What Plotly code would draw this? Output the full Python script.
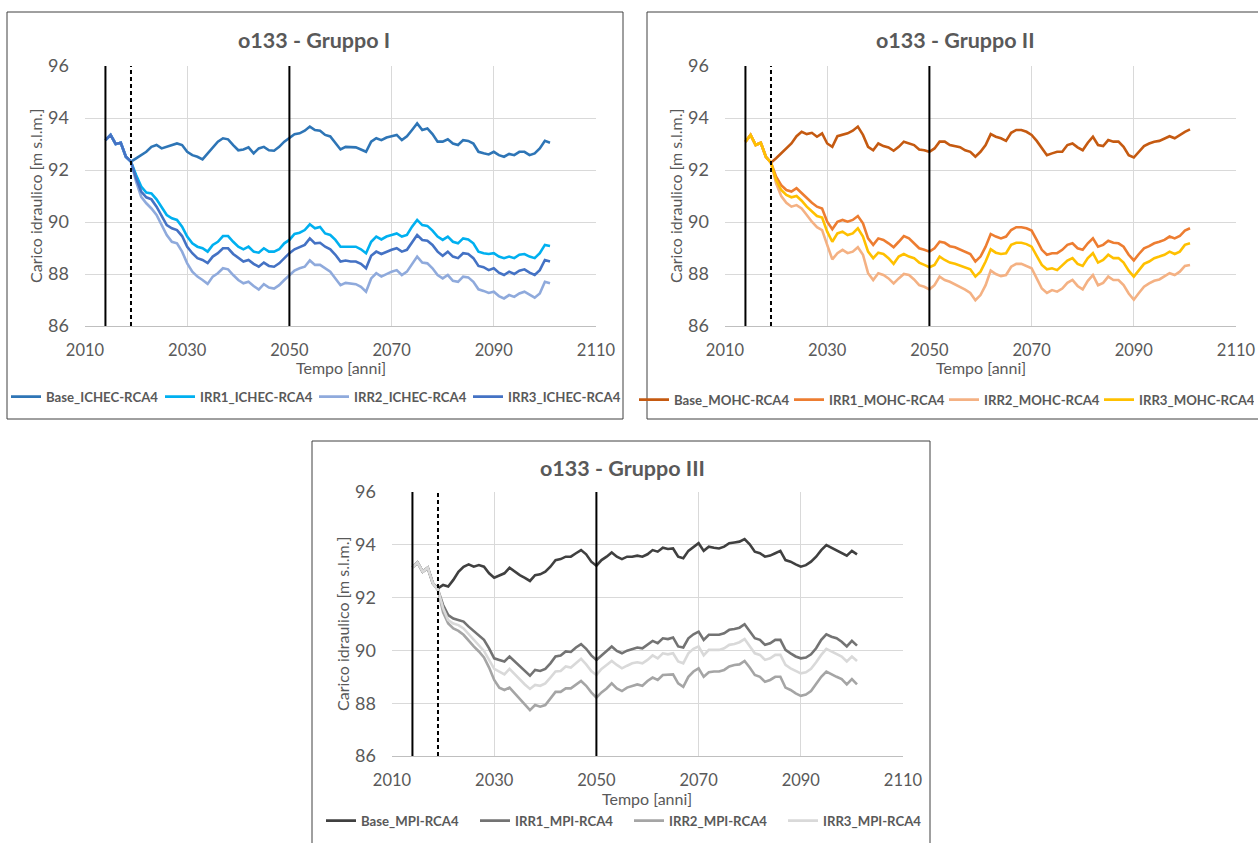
import plotly.graph_objects as go

# ---- data: groundwater head at well o133 [m s.l.m.], yearly values ----
years = list(range(2014, 2102))

# Shared historical segment (2014-2018)
early_I = [93.15, 93.35, 93.00, 93.05, 92.51]
early_II = [93.09, 93.35, 92.96, 93.05, 92.51]
early_III = [93.15, 93.33, 92.98, 93.13, 92.54]

# Gruppo I (ICHEC-RCA4), 2019-2101
base_I = [92.32, 92.45, 92.57, 92.70, 92.89, 92.96, 92.83, 92.89, 92.96, 93.02,
          92.96, 92.70, 92.57, 92.51, 92.41, 92.64, 92.83, 93.09, 93.22, 93.18,
          92.96, 92.76, 92.79, 92.87, 92.64, 92.83, 92.89, 92.76, 92.74, 92.89,
          93.09, 93.22, 93.38, 93.41, 93.51, 93.67, 93.54, 93.51, 93.35, 93.29,
          93.02, 92.79, 92.89, 92.87, 92.87, 92.79, 92.70, 93.09, 93.22, 93.15,
          93.25, 93.30, 93.35, 93.15, 93.30, 93.54, 93.79, 93.54, 93.60, 93.38,
          93.09, 93.09, 93.18, 93.02, 92.96, 93.15, 93.12, 93.02, 92.70, 92.64,
          92.60, 92.70, 92.57, 92.51, 92.62, 92.57, 92.70, 92.70, 92.57, 92.64,
          92.83, 93.12, 93.05]
irr1_I = [92.32, 91.81, 91.36, 91.13, 91.10, 90.87, 90.59, 90.27, 90.14, 90.08,
          89.82, 89.44, 89.18, 89.05, 88.99, 88.86, 89.12, 89.24, 89.46, 89.46,
          89.24, 89.05, 88.95, 89.05, 88.86, 88.82, 88.99, 88.86, 88.86, 88.95,
          89.18, 89.31, 89.54, 89.59, 89.69, 89.91, 89.76, 89.81, 89.56, 89.50,
          89.31, 89.05, 89.05, 89.05, 89.05, 88.95, 88.80, 89.24, 89.44, 89.33,
          89.44, 89.50, 89.56, 89.44, 89.50, 89.82, 90.08, 89.88, 89.85, 89.67,
          89.44, 89.31, 89.44, 89.24, 89.18, 89.37, 89.33, 89.18, 88.86, 88.80,
          88.77, 88.80, 88.67, 88.61, 88.67, 88.61, 88.74, 88.77, 88.67, 88.61,
          88.80, 89.12, 89.08]
irr2_I = [92.32, 91.55, 90.97, 90.72, 90.52, 90.27, 89.88, 89.50, 89.24, 89.18,
          88.86, 88.41, 88.09, 87.90, 87.77, 87.62, 87.90, 88.03, 88.22, 88.18,
          87.96, 87.77, 87.64, 87.70, 87.54, 87.40, 87.61, 87.48, 87.44, 87.57,
          87.77, 87.96, 88.13, 88.22, 88.28, 88.52, 88.35, 88.35, 88.22, 88.09,
          87.83, 87.57, 87.66, 87.64, 87.61, 87.51, 87.32, 87.83, 88.03, 87.90,
          88.00, 88.09, 88.15, 87.96, 88.09, 88.39, 88.67, 88.44, 88.41, 88.22,
          87.96, 87.83, 87.96, 87.74, 87.70, 87.90, 87.87, 87.70, 87.41, 87.35,
          87.27, 87.32, 87.15, 87.06, 87.19, 87.12, 87.25, 87.32, 87.19, 87.09,
          87.25, 87.70, 87.64]
irr3_I = [92.32, 91.68, 91.17, 90.95, 90.87, 90.59, 90.23, 89.88, 89.76, 89.69,
          89.46, 89.05, 88.80, 88.61, 88.54, 88.42, 88.67, 88.80, 88.99, 88.99,
          88.77, 88.61, 88.48, 88.54, 88.39, 88.28, 88.44, 88.31, 88.28, 88.41,
          88.61, 88.80, 88.95, 89.05, 89.12, 89.37, 89.18, 89.20, 89.05, 88.95,
          88.74, 88.48, 88.52, 88.48, 88.48, 88.39, 88.22, 88.70, 88.86, 88.77,
          88.86, 88.93, 88.99, 88.86, 88.93, 89.24, 89.50, 89.31, 89.28, 89.12,
          88.86, 88.70, 88.86, 88.67, 88.61, 88.80, 88.77, 88.61, 88.31, 88.26,
          88.15, 88.22, 88.05, 87.96, 88.09, 88.00, 88.13, 88.18, 88.05, 87.96,
          88.15, 88.54, 88.48]

# Gruppo II (MOHC-RCA4), 2019-2101
base_II = [92.28, 92.45, 92.64, 92.83, 93.02, 93.30, 93.47, 93.38, 93.43, 93.28,
           93.41, 93.02, 92.89, 93.30, 93.35, 93.41, 93.51, 93.67, 93.35, 92.89,
           92.76, 93.02, 92.92, 92.87, 92.74, 92.89, 93.09, 93.02, 92.96, 92.79,
           92.76, 92.70, 92.83, 93.09, 93.09, 92.96, 92.92, 92.88, 92.76, 92.70,
           92.51, 92.70, 92.96, 93.38, 93.28, 93.22, 93.12, 93.43, 93.54, 93.54,
           93.47, 93.35, 93.12, 92.83, 92.57, 92.64, 92.70, 92.70, 92.96, 93.02,
           92.87, 92.76, 93.05, 93.28, 92.96, 92.92, 93.15, 93.09, 93.09, 92.89,
           92.57, 92.48, 92.70, 92.92, 93.02, 93.09, 93.12, 93.22, 93.30, 93.22,
           93.35, 93.47, 93.56]
irr1_II = [92.28, 91.74, 91.42, 91.23, 91.17, 91.30, 91.10, 90.91, 90.74, 90.59,
           90.52, 90.01, 89.72, 90.01, 90.08, 90.01, 90.08, 90.23, 89.95, 89.37,
           89.12, 89.37, 89.31, 89.18, 89.03, 89.24, 89.46, 89.37, 89.18, 88.99,
           88.93, 88.86, 88.99, 89.24, 89.20, 89.07, 89.03, 88.95, 88.86, 88.77,
           88.48, 88.67, 89.05, 89.54, 89.44, 89.37, 89.44, 89.69, 89.80, 89.80,
           89.76, 89.67, 89.31, 88.93, 88.74, 88.80, 88.80, 88.93, 89.12, 89.18,
           88.99, 88.93, 89.18, 89.37, 89.05, 89.12, 89.28, 89.20, 89.18, 89.05,
           88.74, 88.52, 88.77, 88.99, 89.07, 89.18, 89.24, 89.31, 89.44, 89.37,
           89.46, 89.67, 89.76]
irr2_II = [92.28, 91.49, 91.00, 90.74, 90.59, 90.65, 90.52, 90.27, 90.01, 89.80,
           89.69, 89.12, 88.56, 88.80, 88.93, 88.80, 88.86, 89.03, 88.74, 88.03,
           87.77, 88.03, 87.96, 87.83, 87.64, 87.83, 88.00, 87.96, 87.79, 87.57,
           87.51, 87.41, 87.57, 87.90, 87.77, 87.70, 87.61, 87.51, 87.40, 87.27,
           86.99, 87.19, 87.57, 88.13, 88.00, 87.92, 87.96, 88.28, 88.39, 88.39,
           88.31, 88.22, 87.83, 87.44, 87.27, 87.38, 87.32, 87.44, 87.66, 87.77,
           87.54, 87.41, 87.74, 87.96, 87.57, 87.66, 87.90, 87.77, 87.77, 87.57,
           87.25, 87.01, 87.27, 87.51, 87.64, 87.74, 87.79, 87.90, 88.03, 87.96,
           88.09, 88.31, 88.35]
irr3_II = [92.28, 91.62, 91.23, 91.04, 90.95, 91.00, 90.82, 90.59, 90.40, 90.23,
           90.17, 89.63, 89.24, 89.56, 89.63, 89.50, 89.56, 89.76, 89.44, 88.86,
           88.61, 88.82, 88.77, 88.61, 88.39, 88.67, 88.77, 88.67, 88.61, 88.44,
           88.35, 88.26, 88.35, 88.67, 88.54, 88.44, 88.39, 88.31, 88.23, 88.18,
           87.90, 88.09, 88.48, 88.95, 88.82, 88.77, 88.80, 89.12, 89.20, 89.20,
           89.15, 89.05, 88.70, 88.35, 88.18, 88.22, 88.15, 88.35, 88.52, 88.61,
           88.39, 88.31, 88.61, 88.80, 88.44, 88.54, 88.74, 88.61, 88.61, 88.44,
           88.13, 87.90, 88.15, 88.39, 88.48, 88.61, 88.67, 88.74, 88.86, 88.77,
           88.86, 89.12, 89.18]

# Gruppo III (MPI-RCA4), 2019-2101
base_III = [92.35, 92.48, 92.42, 92.67, 92.98, 93.17, 93.26, 93.17, 93.23, 93.17,
            92.92, 92.75, 92.83, 92.92, 93.13, 92.98, 92.85, 92.75, 92.63, 92.85,
            92.88, 92.98, 93.17, 93.42, 93.46, 93.55, 93.55, 93.68, 93.80, 93.64,
            93.36, 93.21, 93.42, 93.55, 93.71, 93.55, 93.46, 93.55, 93.55, 93.59,
            93.55, 93.64, 93.80, 93.74, 93.89, 93.84, 93.86, 93.55, 93.49, 93.77,
            93.93, 94.06, 93.77, 93.93, 93.89, 93.86, 93.93, 94.06, 94.09, 94.12,
            94.22, 94.02, 93.74, 93.68, 93.55, 93.59, 93.68, 93.77, 93.42, 93.36,
            93.26, 93.17, 93.23, 93.36, 93.55, 93.80, 93.99, 93.89, 93.80, 93.71,
            93.59, 93.77, 93.64]
irr1_III = [92.29, 91.72, 91.34, 91.21, 91.15, 91.09, 90.90, 90.74, 90.59, 90.40,
            90.08, 89.70, 89.64, 89.58, 89.77, 89.58, 89.39, 89.20, 89.04, 89.26,
            89.22, 89.30, 89.51, 89.77, 89.81, 89.96, 89.94, 90.11, 90.24, 90.06,
            89.81, 89.64, 89.81, 89.98, 90.15, 89.98, 89.89, 89.99, 90.06, 90.11,
            90.08, 90.21, 90.36, 90.27, 90.46, 90.43, 90.49, 90.15, 90.11, 90.46,
            90.61, 90.71, 90.40, 90.59, 90.59, 90.59, 90.65, 90.78, 90.81, 90.86,
            90.99, 90.74, 90.46, 90.40, 90.21, 90.27, 90.40, 90.40, 90.02, 89.89,
            89.77, 89.70, 89.73, 89.85, 90.08, 90.40, 90.61, 90.52, 90.46, 90.33,
            90.15, 90.36, 90.18]
irr2_III = [92.29, 91.44, 91.02, 90.83, 90.74, 90.59, 90.36, 90.15, 89.96, 89.73,
            89.35, 88.88, 88.59, 88.50, 88.59, 88.37, 88.16, 87.93, 87.74, 87.93,
            87.87, 87.93, 88.18, 88.43, 88.43, 88.56, 88.56, 88.69, 88.84, 88.66,
            88.41, 88.21, 88.41, 88.56, 88.75, 88.56, 88.46, 88.59, 88.66, 88.71,
            88.66, 88.84, 88.97, 88.88, 89.07, 89.07, 89.09, 88.75, 88.62, 89.00,
            89.20, 89.32, 89.00, 89.17, 89.20, 89.20, 89.26, 89.39, 89.45, 89.47,
            89.60, 89.35, 89.07, 89.00, 88.81, 88.88, 89.00, 89.00, 88.59, 88.50,
            88.37, 88.28, 88.33, 88.46, 88.71, 89.00, 89.20, 89.09, 89.00, 88.91,
            88.71, 88.91, 88.71]
irr3_III = [92.29, 91.60, 91.15, 91.02, 90.96, 90.83, 90.61, 90.40, 90.21, 89.98,
            89.64, 89.30, 89.20, 89.09, 89.30, 89.09, 88.92, 88.71, 88.54, 88.69,
            88.66, 88.75, 88.97, 89.20, 89.22, 89.39, 89.35, 89.51, 89.68, 89.47,
            89.22, 89.07, 89.30, 89.45, 89.60, 89.45, 89.32, 89.42, 89.51, 89.55,
            89.51, 89.64, 89.81, 89.70, 89.89, 89.85, 89.89, 89.58, 89.51, 89.89,
            90.06, 90.15, 89.81, 90.02, 90.02, 90.02, 90.08, 90.21, 90.24, 90.31,
            90.43, 90.18, 89.89, 89.83, 89.64, 89.70, 89.83, 89.83, 89.45, 89.32,
            89.22, 89.13, 89.17, 89.30, 89.55, 89.83, 90.06, 89.96, 89.89, 89.77,
            89.58, 89.77, 89.60]

# Reference years marked with vertical lines
solid_years = [2014, 2050]
dashed_year = 2019

y_ticks = [86, 88, 90, 92, 94, 96]
x_ticks = [2010, 2030, 2050, 2070, 2090, 2110]

groups = [
    dict(title="o133 - Gruppo I", model="ICHEC-RCA4", early=early_I,
         series=[base_I, irr1_I, irr2_I, irr3_I],
         colors=["#2E75B6", "#00B0F0", "#8FAADC", "#4472C4"]),
    dict(title="o133 - Gruppo II", model="MOHC-RCA4", early=early_II,
         series=[base_II, irr1_II, irr2_II, irr3_II],
         colors=["#C55A11", "#ED7D31", "#F4B183", "#FFC000"]),
    dict(title="o133 - Gruppo III", model="MPI-RCA4", early=early_III,
         series=[base_III, irr1_III, irr2_III, irr3_III],
         colors=["#404040", "#737373", "#A5A5A5", "#D9D9D9"]),
]
scenarios = ["Base", "IRR1", "IRR2", "IRR3"]

# ---- layout geometry (pixels in a 1258 x 843 page) ----
W, H = 1258, 843
FONT = "Lato, 'Open Sans', sans-serif"
TXT = "#595959"

def px(x):
    return x / W

def py(y):
    return 1 - y / H

panels = [
    dict(box=(7, 12, 623, 419), plot=(85, 66, 596, 326),
         title=(314, 40), legend=(6, 397), entry=109),
    dict(box=(647, 12, 1275, 419), plot=(725, 66, 1236, 326),
         title=(955, 40), legend=(634, 400), entry=110),
    dict(box=(312, 441, 930, 860), plot=(392, 492, 903, 756),
         title=(622, 468), legend=(321, 821), entry=109),
]

fig = go.Figure()
shapes = []
annotations = []

for i, (g, p) in enumerate(zip(groups, panels)):
    n = "" if i == 0 else str(i + 1)
    xa, ya = "x" + n, "y" + n
    leg = "legend" + n
    for name, vals, col in zip(scenarios, g["series"], g["colors"]):
        fig.add_trace(go.Scatter(
            x=years, y=g["early"] + vals, mode="lines",
            name=f"{name}_{g['model']}",
            line=dict(color=col, width=2.6),
            xaxis=xa, yaxis=ya, legend=leg, hoverinfo="x+y+name",
        ))

    x0, y0, x1, y1 = p["plot"]
    lx, ly = p["legend"]
    fig.update_layout({
        "xaxis" + n: dict(
            domain=[px(x0), px(x1)], anchor=ya, range=[2010, 2110],
            tickvals=x_ticks, showgrid=True, gridcolor="#D9D9D9", gridwidth=1,
            showline=True, linecolor="#BFBFBF", linewidth=1, zeroline=False,
            ticks="", ticklabelstandoff=9,
            tickfont=dict(family=FONT, size=16.5, color=TXT),
        ),
        "yaxis" + n: dict(
            domain=[py(y1), py(y0)], anchor=xa, range=[86, 96],
            tickvals=y_ticks, showgrid=True, gridcolor="#D9D9D9", gridwidth=1,
            showline=False, zeroline=False, ticks="", ticklabelstandoff=15,
            tickfont=dict(family=FONT, size=18, color=TXT),
        ),
        leg: dict(
            orientation="h", x=px(lx), xanchor="left",
            y=py(ly), yanchor="middle",
            entrywidth=p["entry"], entrywidthmode="pixels", itemwidth=30,
            font=dict(family=FONT, size=13.2, color=TXT, weight="bold"),
            bgcolor="rgba(0,0,0,0)", traceorder="normal",
        ),
    })

    # panel frame
    bx0, by0, bx1, by1 = p["box"]
    shapes.append(dict(type="rect", xref="paper", yref="paper",
                       x0=px(bx0), x1=px(bx1), y0=py(by1), y1=py(by0),
                       line=dict(color="#404040", width=1), layer="below"))
    # reference years
    for yr in solid_years:
        shapes.append(dict(type="line", xref=xa, yref=ya + " domain",
                           x0=yr, x1=yr, y0=0, y1=1,
                           line=dict(color="black", width=2)))
    shapes.append(dict(type="line", xref=xa, yref=ya + " domain",
                       x0=dashed_year, x1=dashed_year, y0=0, y1=1,
                       line=dict(color="black", width=2, dash="4px,3px")))

    # titles
    tx, ty = p["title"]
    annotations.append(dict(text=f"<b>{g['title']}</b>", xref="paper", yref="paper",
                            x=px(tx), y=py(ty), xanchor="center", yanchor="middle",
                            showarrow=False,
                            font=dict(family=FONT, size=21.5, color=TXT)))
    annotations.append(dict(text="Tempo [anni]", xref="paper", yref="paper",
                            x=px((x0 + x1) / 2), y=py(y1 + 42),
                            xanchor="center", yanchor="middle", showarrow=False,
                            font=dict(family=FONT, size=16, color=TXT)))
    annotations.append(dict(text="Carico idraulico [m s.l.m.]", xref="paper",
                            yref="paper", x=px(x0 - 50), y=py((y0 + y1) / 2),
                            xanchor="center", yanchor="middle", textangle=-90,
                            showarrow=False,
                            font=dict(family=FONT, size=16, color=TXT)))

fig.update_layout(
    width=W, height=H,
    margin=dict(l=0, r=0, t=0, b=0, autoexpand=False),
    paper_bgcolor="white", plot_bgcolor="white",
    shapes=shapes, annotations=annotations, showlegend=True,
)

fig.write_html("out.html")
